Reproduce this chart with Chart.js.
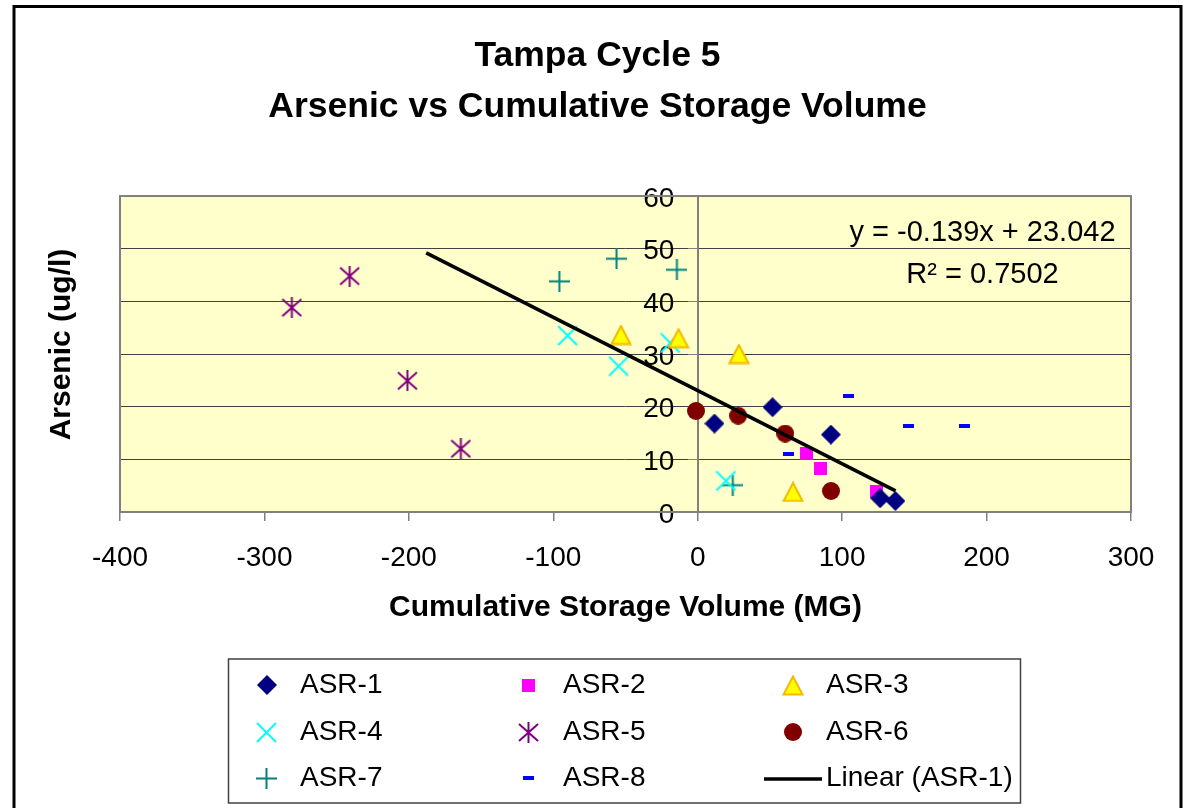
<!DOCTYPE html>
<html>
<head>
<meta charset="utf-8">
<script src="https://cdn.jsdelivr.net/npm/chart.js@4/dist/chart.umd.min.js"></script>
<style>
  html, body { margin: 0; padding: 0; background: #ffffff; }
  #wrap { width: 1186px; height: 808px; position: relative; }
  canvas { display: block; }
</style>
</head>
<body>
<div id="wrap"><canvas id="c" width="1186" height="808"></canvas></div>
<script>
// ---------------- DATA ----------------
const chartTitle = ['Tampa Cycle 5', 'Arsenic vs Cumulative Storage Volume'];
const xAxisTitle = 'Cumulative Storage Volume (MG)';
const yAxisTitle = 'Arsenic (ug/l)';
const seriesNames = ['ASR-1', 'ASR-2', 'ASR-3', 'ASR-4', 'ASR-5', 'ASR-6', 'ASR-7', 'ASR-8'];
const trendName = 'Linear (ASR-1)';
const equationText = 'y = -0.139x + 23.042';
const rSquaredText = 'R\u00B2 = 0.7502';

const asr1X = [11.6, 51.8, 92.2, 126.3, 136.9];
const asr1Y = [16.8, 19.9, 14.7, 2.6, 2.1];
const asr2X = [75.6, 85.3, 124.0];
const asr2Y = [11.1, 8.3, 3.9];
const asr3X = [-53.2, -13.3, 28.5, 66.0];
const asr3Y = [33.6, 33.0, 30.0, 3.8];
const asr4X = [-90.1, -54.8, -19.0, 19.5];
const asr4Y = [33.5, 27.7, 32.1, 5.9];
const asr5X = [-281, -241, -201, -164];
const asr5Y = [38.8, 44.8, 24.9, 12.0];
const asr6X = [-1.2, 28.0, 60.6, 92.3];
const asr6Y = [19.2, 18.3, 14.9, 4.0];
const asr7X = [-95.8, -56.2, -14.4, 24.3];
const asr7Y = [43.8, 48.1, 46.0, 5.1];
const asr8X = [104.4, 146.1, 184.6, 62.9];
const asr8Y = [22.1, 16.3, 16.3, 11.1];

// trend line end points
const trendX = [-188, 137];
const trendY = [49.2, 4.0];

const xTicksMin = -400, xTicksMax = 300, xStep = 100;
const yTicksMin = 0, yTicksMax = 60, yStep = 10;

// ---------------- MARKERS ----------------
function mk(w, h, fn) {
  const c = document.createElement('canvas');
  c.width = w; c.height = h;
  const g = c.getContext('2d');
  fn(g, w, h);
  return c;
}
const markers = [
  mk(20, 20, (g) => { g.fillStyle = '#000080'; g.beginPath(); g.moveTo(10, 0); g.lineTo(20, 10); g.lineTo(10, 20); g.lineTo(0, 10); g.closePath(); g.fill(); }),
  mk(13, 13, (g) => { g.fillStyle = '#FF00FF'; g.fillRect(0, 0, 13, 13); }),
  mk(22, 21, (g) => { g.fillStyle = '#FFFF00'; g.strokeStyle = '#F2B900'; g.lineWidth = 2; g.lineJoin = 'miter'; g.beginPath(); g.moveTo(11, 1.5); g.lineTo(20.5, 19.5); g.lineTo(1.5, 19.5); g.closePath(); g.fill(); g.stroke(); }),
  mk(21, 21, (g) => { g.strokeStyle = '#00FFFF'; g.lineWidth = 2; g.beginPath(); g.moveTo(1, 1); g.lineTo(20, 20); g.moveTo(20, 1); g.lineTo(1, 20); g.stroke(); }),
  mk(21, 21, (g) => { g.strokeStyle = '#800080'; g.lineWidth = 2; g.beginPath(); g.moveTo(1, 2); g.lineTo(20, 19); g.moveTo(20, 2); g.lineTo(1, 19); g.moveTo(10.5, 0); g.lineTo(10.5, 21); g.stroke(); }),
  mk(18, 18, (g) => { g.fillStyle = '#800000'; g.beginPath(); g.arc(9, 9, 9, 0, Math.PI * 2); g.fill(); }),
  mk(21, 21, (g) => { g.strokeStyle = '#008080'; g.lineWidth = 2; g.beginPath(); g.moveTo(0, 10.5); g.lineTo(21, 10.5); g.moveTo(10.5, 0); g.lineTo(10.5, 21); g.stroke(); }),
  mk(11, 4, (g) => { g.fillStyle = '#0000FF'; g.fillRect(0, 0, 11, 4); })
];

const xs = [asr1X, asr2X, asr3X, asr4X, asr5X, asr6X, asr7X, asr8X];
const ys = [asr1Y, asr2Y, asr3Y, asr4Y, asr5Y, asr6Y, asr7Y, asr8Y];
const pts = (X, Y) => X.map((x, i) => ({ x: x, y: Y[i] }));

const datasets = seriesNames.map((name, i) => ({
  label: name,
  data: pts(xs[i], ys[i]),
  pointStyle: markers[i],
  pointRadius: 10,
  pointHoverRadius: 10,
  showLine: false,
  order: 1
}));
datasets.push({
  label: trendName,
  data: pts(trendX, trendY),
  showLine: true,
  borderColor: '#000000',
  borderWidth: 3.5,
  pointRadius: 0,
  pointHoverRadius: 0,
  fill: false,
  order: 0
});

const FONT = "'Liberation Sans', Arial, sans-serif";
Chart.defaults.font.family = FONT;
Chart.defaults.color = '#000000';

// ---------------- PLUGINS ----------------
const bgPlugin = {
  id: 'bgPlugin',
  beforeDraw(chart) {
    const { ctx, chartArea: a } = chart;
    ctx.save();
    ctx.fillStyle = '#FFFFFF';
    ctx.fillRect(0, 0, chart.width, chart.height);
    ctx.fillStyle = '#FFFFCC';
    ctx.fillRect(a.left, a.top, a.right - a.left, a.bottom - a.top);
    ctx.restore();
  },
  beforeDatasetsDraw(chart) {
    const { ctx, chartArea: a } = chart;
    ctx.save();
    ctx.strokeStyle = '#808080';
    ctx.lineWidth = 2;
    ctx.strokeRect(a.left, a.top, a.right - a.left, a.bottom - a.top);
    ctx.restore();
  },
  afterDatasetsDraw(chart) {
    const { ctx, chartArea: a } = chart;
    ctx.save();
    ctx.fillStyle = '#000000';
    ctx.font = "29px " + FONT;
    ctx.textAlign = 'center';
    ctx.textBaseline = 'middle';
    const cx = a.right - 148.5;
    ctx.fillText(equationText, cx, a.top + 37);
    ctx.fillText(rSquaredText, cx, a.top + 79);
    ctx.restore();
  },
  afterDraw(chart) {
    const ctx = chart.ctx;
    const a = chart.chartArea;
    ctx.save();
    // y axis title
    ctx.save();
    ctx.translate(62, (a.top + a.bottom) / 2 - 9.5);
    ctx.rotate(-Math.PI / 2);
    ctx.font = "bold 30px " + FONT;
    ctx.fillStyle = '#000000';
    ctx.textAlign = 'center';
    ctx.textBaseline = 'middle';
    ctx.fillText(yAxisTitle, 0, 0);
    ctx.restore();
    // outer frame
    ctx.strokeStyle = '#000000';
    ctx.lineWidth = 3;
    ctx.strokeRect(14, 6.5, 1167, 900);
    // legend box
    const L = 228.5, T = 659, W = 792, H = 144;
    ctx.strokeStyle = '#404040';
    ctx.lineWidth = 1.5;
    ctx.strokeRect(L, T, W, H);
    const colMarker = [266.5, 528.5, 792.5];
    const colText = [300, 563, 826];
    const rowY = [685, 732, 778];
    ctx.font = "28px " + FONT;
    ctx.fillStyle = '#000000';
    ctx.textAlign = 'left';
    ctx.textBaseline = 'middle';
    chart.data.datasets.forEach((ds, i) => {
      const r = Math.floor(i / 3), c = i % 3;
      const y = rowY[r];
      if (ds.showLine) {
        ctx.strokeStyle = ds.borderColor;
        ctx.lineWidth = 3.5;
        ctx.beginPath();
        ctx.moveTo(764, y + 1);
        ctx.lineTo(822, y + 1);
        ctx.stroke();
        ctx.fillText(ds.label, colText[c], y);
      } else {
        const m = ds.pointStyle;
        ctx.drawImage(m, Math.round(colMarker[c] - m.width / 2), Math.round(y - m.height / 2));
        ctx.fillText(ds.label, colText[c], y);
      }
    });
    ctx.restore();
  }
};

// ---------------- CHART ----------------
new Chart(document.getElementById('c'), {
  type: 'scatter',
  data: { datasets: datasets },
  options: {
    responsive: false,
    devicePixelRatio: 1,
    animation: false,
    layout: { padding: { left: 64, right: 55, top: 0, bottom: 182 } },
    plugins: {
      legend: { display: false },
      tooltip: { enabled: false },
      title: {
        display: true,
        text: chartTitle,
        color: '#000000',
        font: { family: FONT, size: 35.5, weight: 'bold', lineHeight: 1.43 },
        padding: { top: 31, bottom: 63.5 }
      }
    },
    scales: {
      x: {
        type: 'linear',
        position: 'bottom',
        min: xTicksMin,
        max: xTicksMax,
        ticks: { stepSize: xStep, color: '#000000', font: { size: 28 }, padding: 20, maxRotation: 0 },
        grid: { drawOnChartArea: false, drawTicks: true, tickLength: 9, color: '#808080', lineWidth: 1.5 },
        border: { display: true, color: '#808080', width: 2 },
        title: { display: true, text: xAxisTitle, color: '#000000', font: { size: 30, weight: 'bold' }, padding: { top: 15, bottom: 0 } },
        afterFit(scale) { scale.height = 114; }
      },
      y: {
        type: 'linear',
        position: { x: 0 },
        min: yTicksMin,
        max: yTicksMax,
        ticks: { stepSize: yStep, color: '#000000', font: { size: 28 }, padding: 15, labelOffset: 3,
                 callback: (v) => v + '   ' },
        grid: { drawOnChartArea: true, drawTicks: true, tickLength: 9, color: '#404040', lineWidth: 1, tickColor: '#808080' },
        border: { display: true, color: '#808080', width: 2 },
        afterFit(scale) { scale.width = 0; }
      },
      ySpace: {
        type: 'linear',
        position: 'left',
        min: 0,
        max: 1,
        ticks: { display: false },
        grid: { display: false, drawTicks: false },
        border: { display: false },
        title: { display: false },
        afterFit(scale) { scale.width = 56; }
      }
    }
  },
  plugins: [bgPlugin]
});
</script>
</body>
</html>
